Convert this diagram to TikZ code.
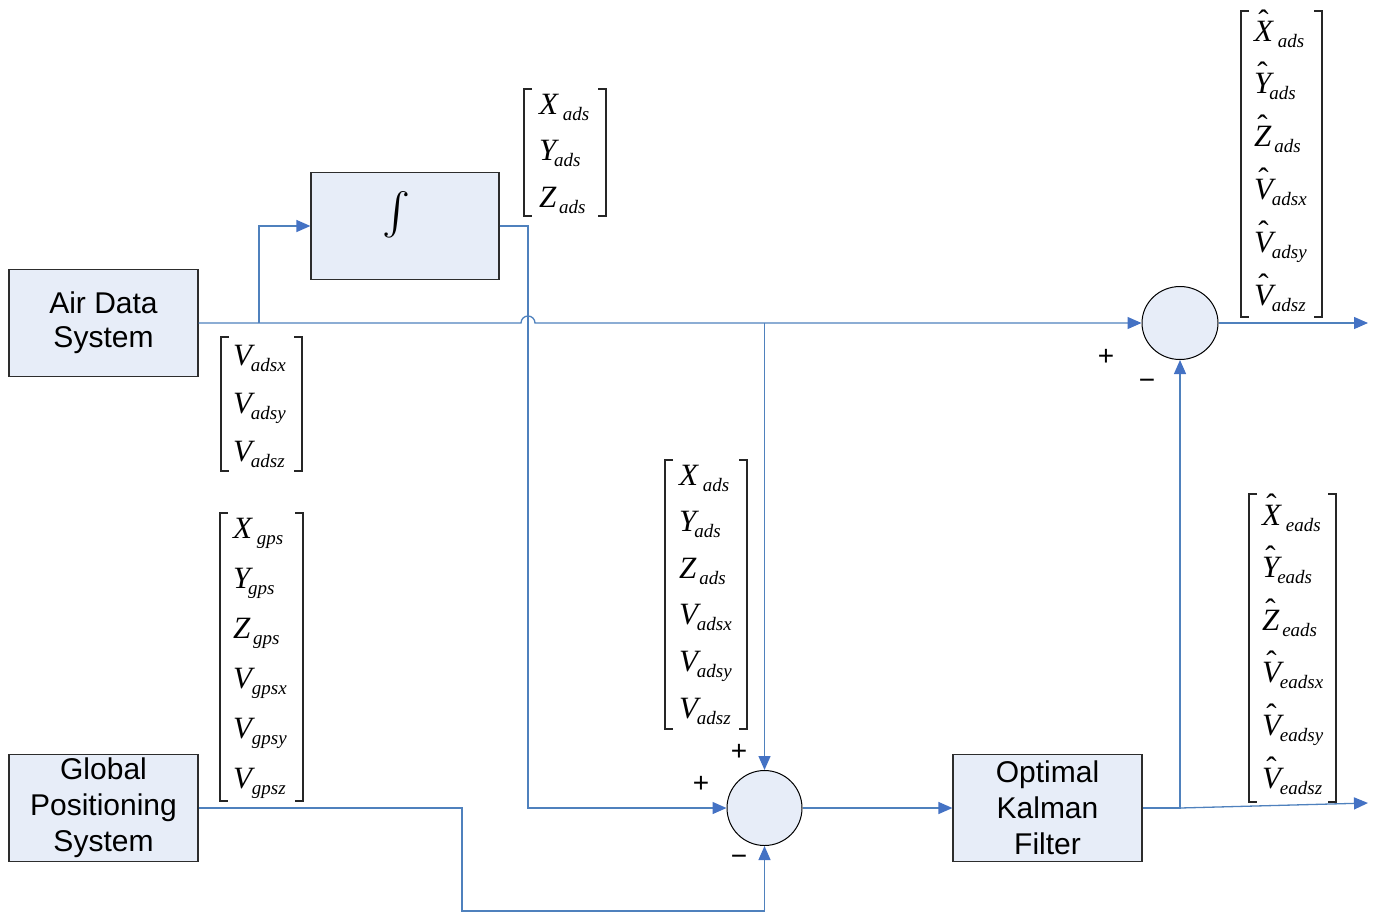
\documentclass[tikz,border=0pt]{standalone}
\usepackage{fontspec}
\setmainfont{Liberation Serif}
\newfontfamily\boxfont{Liberation Sans}
\usetikzlibrary{arrows.meta,shapes.geometric,calc}

\definecolor{wire}{RGB}{79,129,189}
\definecolor{tipc}{RGB}{68,114,196}
\definecolor{boxfill}{RGB}{231,237,248}
\definecolor{edge}{RGB}{45,45,45}

% symbols with lowered italic subscripts, optionally hatted
\newcommand{\subs}[1]{\raisebox{-6pt}{\fontsize{19}{19}\selectfont\itshape #1}}
\newcommand{\mv}[3][0pt]{{\itshape #2}\kern#1\subs{#3}}
\newcommand{\hatletter}[1]{\sbox0{\itshape #1}\makebox[\wd0][c]{\smash{\raisebox{10pt}{\char"02C6}}}\kern-\wd0\usebox0}
\newcommand{\hv}[3][0pt]{\hatletter{#2}\kern#1\subs{#3}}

% column vectors: fixed row pitch so the bracket spans exactly the node
\newcommand{\setmat}[5]{\def\mW{#1}\def\mL{#2}\def\mH{#3}\def\mD{#4}\def\mZ{#5}}
\newcommand{\mrow}[1]{\hbox to \mW{\hskip\mL\rule[-\mD]{0pt}{\dimexpr\mH+\mD\relax}#1\hss}}
\newcommand{\mlast}[1]{\hbox to \mW{\hskip\mL\rule[-\mZ]{0pt}{\dimexpr\mH+\mZ\relax}#1\hss}}
\newcommand{\brackets}[1]{%
  \draw[brk] ([xshift=8pt]#1.north west) -- (#1.north west) -- (#1.south west) -- ([xshift=8pt]#1.south west);
  \draw[brk] ([xshift=-8pt]#1.north east) -- (#1.north east) -- (#1.south east) -- ([xshift=-8pt]#1.south east);}

\tikzset{
  blk/.style={draw=edge, fill=boxfill, line width=1.2pt, minimum width=189pt, minimum height=107pt,
    inner sep=0pt, align=center, font=\boxfont\fontsize{30}{36}\selectfont},
  sumnode/.style={ellipse, draw=black, fill=boxfill, line width=1pt, inner sep=0pt},
  vec/.style={anchor=north west, inner sep=0pt, outer sep=0pt, font=\fontsize{31}{31}\selectfont},
  brk/.style={draw=black!85, line width=1.2pt},
  wireline/.style={draw=wire, line width=1.3pt},
  flow/.style={wireline, -{Triangle[length=14pt,width=12pt,color=tipc]}},
  sign/.style={font=\boxfont\fontsize{28}{28}\selectfont, inner sep=0pt},
}

\begin{document}
\begin{tikzpicture}[x=1pt,y=-1pt]
\useasboundingbox (0,0) rectangle (1380,913);

% blocks
\node[blk] (ads) at (103.5,323) {\raisebox{-3pt}{\begin{tabular}{@{}c@{}}Air Data\\[-2pt]System\end{tabular}}};
\node[blk, minimum width=188pt] (integ) at (405,226) {};
\node[scale=4.2, inner sep=0pt] (intsym) at (396,215) {$\int$};
\node[blk] (gps) at (103.5,808) {Global\\Positioning\\System};
\node[blk] (kf) at (1047.5,808) {Optimal\\Kalman\\Filter};
\node[sumnode, minimum width=76pt, minimum height=73pt] (c1) at (1180,323) {};
\node[sumnode, minimum width=75pt, minimum height=75pt] (c2) at (764.5,808) {};

% helper points
\coordinate (jx) at (528,323);
\coordinate (b1) at (259,323);
\coordinate (g1) at (462,911);
\coordinate (k1) at (c1.south |- kf.east);
\coordinate (o1) at (1368,323);
\coordinate (o2) at (1368,803);

% connectors
\draw[flow] (ads.east) -- ([xshift=-7pt]jx) arc[start angle=180,end angle=0,radius=7pt] -- (c1.west);
\draw[flow] (b1) |- (integ.west);
\draw[flow] (integ.east) -| (jx |- c2.west) -- (c2.west);
\draw[flow] (c2.north |- ads.east) -- (c2.north);
\draw[flow] (gps.east) -| (g1) -| (c2.south);
\draw[flow] (c2.east) -- (kf.west);
\draw[flow] (kf.east) -- (k1) -- (c1.south);
\draw[flow] (k1) -- (o2);
\draw[flow] (c1.east) -- (o1);

% signs at the summing junctions
\node[sign] (p1) at (1106,357) {+};
\node[sign] (m1) at (1147,384) {\char"2212};
\node[sign] (p2) at (739,752) {+};
\node[sign] (p3) at (701,784) {+};
\node[sign] (m2) at (739,860) {\char"2212};

% signal vectors
\node[vec] (vxyz) at (524,89) {\setmat{82pt}{15pt}{25pt}{21.5pt}{9pt}\vbox{\offinterlineskip
  \mrow{\mv[5pt]{X}{ads}}\mrow{\mv[-2pt]{Y}{ads}}\mlast{\mv[3pt]{Z}{ads}}}};
\brackets{vxyz}

\node[vec] (vvel) at (221,337) {\setmat{81pt}{12pt}{28pt}{20pt}{10pt}\vbox{\offinterlineskip
  \mrow{\mv[-1pt]{V}{adsx}}\mrow{\mv[-1pt]{V}{adsy}}\mlast{\mv[-1pt]{V}{adsz}}}};
\brackets{vvel}

\node[vec] (vall) at (665,460) {\setmat{82pt}{14pt}{25pt}{21.6pt}{11pt}\vbox{\offinterlineskip
  \mrow{\mv[5pt]{X}{ads}}\mrow{\mv[-2pt]{Y}{ads}}\mrow{\mv[3pt]{Z}{ads}}%
  \mrow{\mv[-1pt]{V}{adsx}}\mrow{\mv[-1pt]{V}{adsy}}\mlast{\mv[-1pt]{V}{adsz}}}};
\brackets{vall}

\node[vec] (vgps) at (220,513) {\setmat{83pt}{13pt}{25pt}{25pt}{13pt}\vbox{\offinterlineskip
  \mrow{\mv[5pt]{X}{gps}}\mrow{\mv[-2pt]{Y}{gps}}\mrow{\mv[3pt]{Z}{gps}}%
  \mrow{\mv[0pt]{V}{gpsx}}\mrow{\mv[0pt]{V}{gpsy}}\mlast{\mv[0pt]{V}{gpsz}}}};
\brackets{vgps}

\node[vec] (vest) at (1241,11) {\setmat{81pt}{13pt}{30pt}{22.8pt}{12pt}\vbox{\offinterlineskip
  \mrow{\hv[5pt]{X}{ads}}\mrow{\hv[-2pt]{Y}{ads}}\mrow{\hv[3pt]{Z}{ads}}%
  \mrow{\hv[-1pt]{V}{adsx}}\mrow{\hv[-1pt]{V}{adsy}}\mlast{\hv[-1pt]{V}{adsz}}}};
\brackets{vest}

\node[vec] (veads) at (1249,494) {\setmat{87pt}{13pt}{31pt}{21.6pt}{14pt}\vbox{\offinterlineskip
  \mrow{\hv[5pt]{X}{eads}}\mrow{\hv[-2pt]{Y}{eads}}\mrow{\hv[3pt]{Z}{eads}}%
  \mrow{\hv[-1pt]{V}{eadsx}}\mrow{\hv[-1pt]{V}{eadsy}}\mlast{\hv[-1pt]{V}{eadsz}}}};
\brackets{veads}

\end{tikzpicture}
\end{document}
